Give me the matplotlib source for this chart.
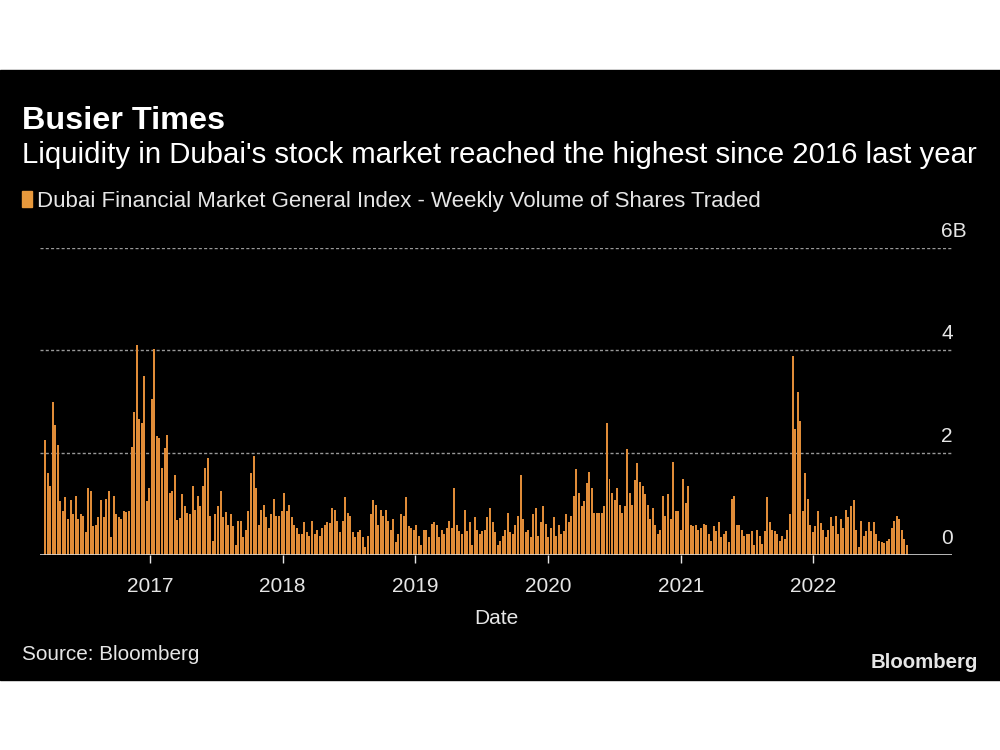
import matplotlib.pyplot as plt
import matplotlib.dates as mdates
from matplotlib.patches import Rectangle
import pandas as pd

# weekly volume of shares traded, billions
first_week = "2016-03-18"
volume_bn = [
    2.25, 1.6, 1.35, 2.99, 2.55, 2.15, 1.05, 0.86, 1.13, 0.7, 1.08, 0.8, 1.16,
    0.7, 0.8, 0.76, 0.44, 1.3, 1.25, 0.56, 0.59, 0.74, 1.08, 0.74, 1.1, 1.25,
    0.35, 1.16, 0.8, 0.74, 0.7, 0.86, 0.84, 0.86, 2.12, 2.8, 4.1,
    2.65, 2.58, 3.5, 1.05, 1.3, 3.04, 4.03, 2.32, 2.29, 1.71, 2.09, 2.34, 1.21,
    1.25, 1.56, 0.69, 0.72, 1.2, 0.95, 0.83, 0.8, 1.35, 0.88, 1.16, 0.96, 1.35,
    1.71, 1.9, 0.76, 0.28, 0.8, 0.95, 1.25, 0.74, 0.85, 0.58, 0.8,
    0.56, 0.2, 0.67, 0.67, 0.35, 0.49, 0.86, 1.61, 1.94, 1.31, 0.59, 0.88, 0.98,
    0.74, 0.52, 0.8, 1.1, 0.76, 0.76, 0.86, 1.22, 0.86, 0.98, 0.74, 0.59, 0.52,
    0.41, 0.41, 0.64, 0.44, 0.37, 0.67, 0.41, 0.49, 0.37, 0.52, 0.59, 0.64,
    0.63, 0.92, 0.88, 0.67, 0.44, 0.67, 1.13, 0.83, 0.76, 0.44, 0.35, 0.44, 0.49,
    0.35, 0.15, 0.37, 0.8, 1.07, 0.98, 0.58, 0.88, 0.76, 0.88, 0.67, 0.49, 0.7,
    0.26, 0.41, 0.8, 0.76, 1.13, 0.56, 0.52, 0.49, 0.59, 0.37, 0.2, 0.48,
    0.49, 0.35, 0.61, 0.64, 0.59, 0.35, 0.49, 0.41, 0.52, 0.67, 0.52, 1.31, 0.58,
    0.46, 0.41, 0.88, 0.46, 0.64, 0.2, 0.74, 0.49, 0.41, 0.46, 0.49, 0.74, 0.92,
    0.64, 0.44, 0.2, 0.28, 0.37, 0.49, 0.83, 0.44, 0.41, 0.59, 0.76, 1.56,
    0.7, 0.44, 0.49, 0.35, 0.8, 0.92, 0.37, 0.64, 0.95, 0.61, 0.35, 0.52, 0.74,
    0.37, 0.58, 0.41, 0.46, 0.8, 0.64, 0.76, 1.16, 1.68, 1.22, 0.96, 1.05, 1.41,
    1.63, 1.31, 0.83, 0.83, 0.83, 0.83, 0.95, 2.58, 1.48, 1.22, 1.08,
    1.31, 0.98, 0.83, 0.95, 2.07, 1.22, 0.98, 1.46, 1.8, 1.42, 1.34, 1.2, 0.98,
    0.7, 0.92, 0.59, 0.41, 0.49, 1.16, 0.76, 1.2, 0.7, 1.82, 0.86, 0.86, 0.49,
    1.49, 1.01, 1.34, 0.58, 0.56, 0.59, 0.49, 0.52, 0.61, 0.58, 0.42, 0.28,
    0.56, 0.47, 0.64, 0.35, 0.41, 0.47, 0.26, 1.1, 1.16, 0.59, 0.59, 0.49, 0.37,
    0.41, 0.41, 0.47, 0.2, 0.49, 0.37, 0.22, 0.47, 1.13, 0.64, 0.49, 0.47, 0.41,
    0.28, 0.37, 0.31, 0.49, 0.8, 3.89, 2.46, 3.18, 2.61, 0.86, 1.61,
    1.1, 0.59, 0.44, 0.56, 0.86, 0.62, 0.49, 0.35, 0.49, 0.74, 0.56, 0.76, 0.41,
    0.7, 0.52, 0.88, 0.74, 0.95, 1.07, 0.49, 0.16, 0.67, 0.37, 0.47, 0.64, 0.47,
    0.64, 0.41, 0.28, 0.26, 0.23, 0.28, 0.31, 0.52, 0.67, 0.76, 0.7, 0.49, 0.31,
    0.2,
]
y_ticks = [0, 2, 4, 6]
y_tick_labels = ["0", "2", "4", "6B"]
year_ticks = ["2017", "2018", "2019", "2020", "2021", "2022"]

plt.rcParams["font.family"] = ["Liberation Sans", "DejaVu Sans"]

bar_color = "#e08c38"
text_color = "#e6e6e6"

weeks = pd.date_range(start=first_week, periods=len(volume_bn), freq="W-FRI")

fig = plt.figure(figsize=(10, 7.5), dpi=100, facecolor="white")
fig.patches.append(Rectangle((0, 1 - 680 / 750), 1, 610 / 750,
                             transform=fig.transFigure, color="black", zorder=-10))


def fit_text(x, y, s, width_px, size, **kw):
    # shrink/grow the font so the text spans about the same width as the reference
    t = fig.text(x, y, s, fontsize=size, va="baseline", **kw)
    w = t.get_window_extent(renderer=fig.canvas.get_renderer()).width
    t.set_fontsize(min(size, size * width_px / w))
    return t


ax = fig.add_axes([0.04, 0.26, 0.912, 0.4093])
ax.set_facecolor("black")
ax.bar(weeks, volume_bn, width=5.5, color=bar_color, zorder=3)

ax.set_ylim(0, 6)
ax.set_xlim(pd.Timestamp("2016-03-04"), pd.Timestamp("2023-01-18"))

# dashed gridlines + right side labels sitting above them
for v, lab in zip(y_ticks, y_tick_labels):
    if v > 0:
        ax.axhline(v, color="#999999", lw=1, linestyle=(0, (2.2, 1.6)), zorder=1)
    ax.annotate(lab, xy=(0.988, v), xycoords=("axes fraction", "data"),
                xytext=(0, 8), textcoords="offset points",
                ha="left", va="baseline", fontsize=15, color=text_color)
ax.axhline(0, color="#d8d8d8", lw=1.2, zorder=4)

ax.set_yticks([])
ax.set_xticks([pd.Timestamp(y + "-01-01") for y in year_ticks])
ax.xaxis.set_major_formatter(mdates.DateFormatter("%Y"))
ax.tick_params(axis="x", colors=text_color, length=6, width=1, pad=10, labelsize=15)
for s in ax.spines.values():
    s.set_visible(False)
ax.set_xlabel("Date", color=text_color, fontsize=15, labelpad=9)

fit_text(0.022, 1 - 129 / 750, "Busier Times", 203, 25, fontweight="bold",
         color="white")
fit_text(0.022, 1 - 163 / 750,
         "Liquidity in Dubai's stock market reached the highest since 2016 last year",
         950, 22, color="white")
fig.patches.append(Rectangle((0.022, 1 - 207 / 750), 0.010, 16 / 750,
                             transform=fig.transFigure, color="#e8993c", zorder=2))
fit_text(0.037, 1 - 207 / 750,
         "Dubai Financial Market General Index - Weekly Volume of Shares Traded",
         758, 16, color=text_color)
fit_text(0.022, 1 - 660 / 750, "Source: Bloomberg", 178, 16, color=text_color)
fit_text(0.978, 1 - 668 / 750, "Bloomberg", 108, 15, fontweight="bold",
         color=text_color, ha="right")

fig.savefig("out.png", dpi=100, facecolor="white")
